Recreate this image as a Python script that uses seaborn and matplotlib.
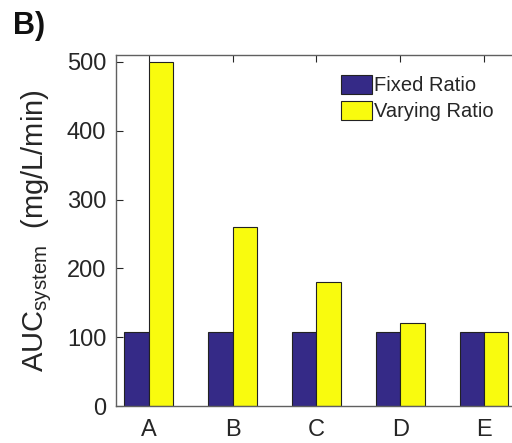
import matplotlib
matplotlib.use("Agg")
import matplotlib.pyplot as plt
import seaborn as sns
import pandas as pd

categories = ["A", "B", "C", "D", "E"]
fixed_ratio = [108, 108, 108, 108, 108]
varying_ratio = [500, 260, 180, 120, 108]
series_names = ["Fixed Ratio", "Varying Ratio"]
yticks = [0, 100, 200, 300, 400, 500]

df = pd.DataFrame({
    "cat": categories * 2,
    "val": fixed_ratio + varying_ratio,
    "series": [series_names[0]] * 5 + [series_names[1]] * 5,
})

sns.set_theme(style="white")
plt.rcParams["font.family"] = ["Liberation Sans", "DejaVu Sans"]
plt.rcParams["mathtext.fontset"] = "custom"
plt.rcParams["mathtext.rm"] = "Liberation Sans"

fig = plt.figure(figsize=(5.12, 4.43), dpi=100)
ax = fig.add_axes([0.2266, 0.0835, 0.7734, 0.7923])

sns.barplot(data=df, x="cat", y="val", hue="series", ax=ax,
            palette=["#352a87", "#f9fb0e"], width=0.575,
            edgecolor="#222222", linewidth=0.8, saturation=1)

ax.set_xlim(-0.388, 4.33)
ax.set_ylim(0, 510)
ax.set_yticks(yticks)
ax.tick_params(axis="both", direction="in", labelsize=17, colors="#262626",
               length=5, width=0.8, top=True, bottom=False, left=True)
ax.tick_params(axis="y", pad=7)
ax.tick_params(axis="x", pad=9)
for s in ["left", "top", "bottom"]:
    ax.spines[s].set_color("#606060")
    ax.spines[s].set_linewidth(1.0)
ax.spines["right"].set_visible(False)
ax.set_xlabel("")
ax.set_ylabel("AUC$_{\\mathregular{system}}$  (mg/L/min)", fontsize=21, color="#262626", labelpad=9)

leg = ax.legend(loc="upper left", bbox_to_anchor=(0.568, 0.943), frameon=False,
                fontsize=14.5, handlelength=1.55, handleheight=1.05,
                handletextpad=0.1, labelspacing=0.3, borderaxespad=0,
                borderpad=0)
for h in leg.legend_handles:
    h.set_edgecolor("#222222")
    h.set_linewidth(0.8)

fig.text(0.025, 0.975, "B)", fontsize=22, fontweight="bold", va="top", ha="left", color="#111111")

fig.savefig("out.png", dpi=100)
